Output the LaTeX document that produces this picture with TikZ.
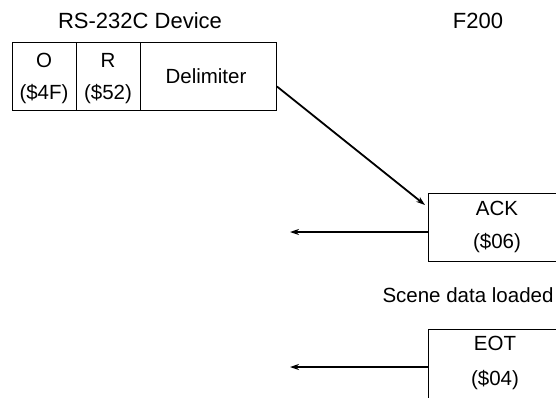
\documentclass[tikz,border=0pt]{standalone}
\usepackage{fontspec}
\setmainfont{Liberation Sans}
\usetikzlibrary{arrows.meta}
\begin{document}
\begin{tikzpicture}[x=1pt,y=-1pt,
  txt/.style={inner sep=0pt,font=\fontsize{20.5}{24}\selectfont},
  ttl/.style={inner sep=0pt,font=\fontsize{22}{26}\selectfont},
  cell/.style={draw,line width=0.9pt,inner sep=0pt,anchor=north west},
  conn/.style={line width=1.8pt,-{Stealth[length=9pt,width=6pt]}}]
\useasboundingbox (0,0) rectangle (556,397);
\clip (0,0) rectangle (556,397);
% titles
\node[ttl] (dev) at (140,21) {RS-232C Device};
\node[ttl] (f200) at (478,21) {F200};
% frame cells
\node[cell,minimum width=64pt,minimum height=68pt] (co) at (12,42) {};
\node[cell,minimum width=64pt,minimum height=68pt] (cr) at (76,42) {};
\node[cell,minimum width=136pt,minimum height=68pt] (cd) at (140,42) {};
\node[txt] (o) at (44,60) {O};
\node[txt] (o2) at (44,94) {(\$4F)};
\node[txt] (r) at (108,60) {R};
\node[txt] (r2) at (108,94) {(\$52)};
\node[txt] (delim) at (206,76) {Delimiter};
% ACK
\node[cell,minimum width=150pt,minimum height=68pt] (ackbox) at (428,193) {};
\node[txt] (ack) at (497,208) {ACK};
\node[txt] (ack2) at (497,243) {(\$06)};
\node[txt] (scene) at (468,295) {Scene data loaded};
% EOT
\node[cell,minimum width=150pt,minimum height=90pt] (eotbox) at (428,329) {};
\node[txt] (eot) at (495,343) {EOT};
\node[txt] (eot2) at (495,380) {(\$04)};
% connectors
\coordinate (s1) at ([yshift=-10pt]cd.east);
\coordinate (e1) at ([xshift=-3pt,yshift=-12pt]ackbox.north west);
\draw[conn] (s1) -- (e1);
\coordinate (t2) at (290,232);
\coordinate (t3) at (290,367);
\draw[conn] (ackbox.west |- t2) -- (t2);
\draw[conn] (eotbox.west |- t3) -- (t3);
\end{tikzpicture}
\end{document}
